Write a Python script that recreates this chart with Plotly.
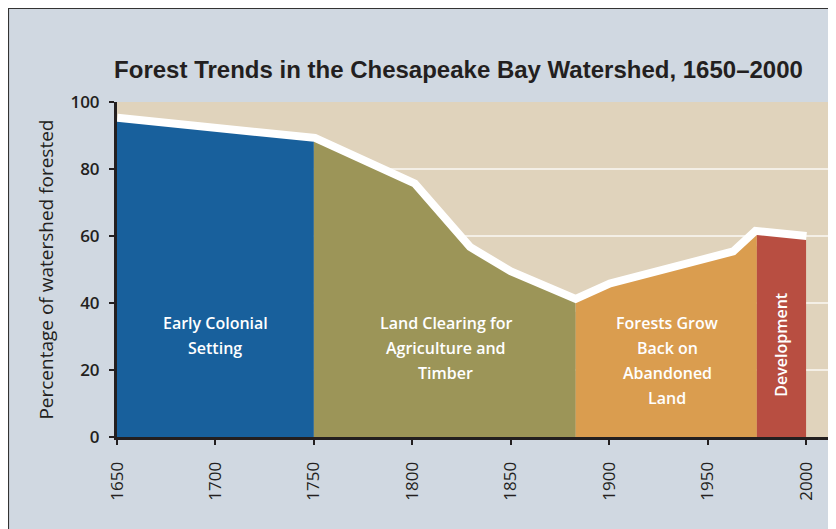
import plotly.graph_objects as go

# ---- data ----
years = [1650, 1750, 1800, 1828, 1849, 1883, 1901, 1964, 1975, 2000]
forest_pct = [94.1, 88.1, 74.7, 55.8, 48.4, 39.9, 44.7, 54.3, 60.3, 58.8]

era_names = ["Early Colonial Setting", "Land Clearing", "Forests Grow Back", "Development"]
era_start_idx = [0, 1, 5, 8]
era_end_idx = [1, 5, 8, 9]
era_colors = ["#18609c", "#9c9558", "#da9d4f", "#b84e41"]

label_lines = [
    ["Early Colonial", "Setting"],
    ["Land Clearing for", "Agriculture and", "Timber"],
    ["Forests Grow", "Back on", "Abandoned", "Land"],
]
label_x = [1700, 1817, 1929.6]
label_top = 34.0
label_step = 7.5

x_ticks = [1650, 1700, 1750, 1800, 1850, 1900, 1950, 2000]
y_ticks = [0, 20, 40, 60, 80, 100]

BG = "#d0d8e1"
BEIGE = "#e0d3bc"
DARK = "#231f20"

fig = go.Figure()

# white edge line (half of it is covered by the fills drawn after)
fig.add_trace(go.Scatter(x=years, y=forest_pct, mode="lines",
                         line=dict(color="white", width=16),
                         hoverinfo="skip", showlegend=False))

for name, s, e, c in zip(era_names, era_start_idx, era_end_idx, era_colors):
    fig.add_trace(go.Scatter(x=years[s:e + 1], y=forest_pct[s:e + 1], mode="lines",
                             fill="tozeroy", fillcolor=c,
                             line=dict(width=0, color=c), name=name,
                             showlegend=False))

annotations = []
for lines, lx in zip(label_lines, label_x):
    for i, t in enumerate(lines):
        annotations.append(dict(x=lx, y=label_top - i * label_step, xref="x", yref="y",
                                text=t, showarrow=False,
                                font=dict(family="Open Sans", size=16, color="white", weight=600),
                                xanchor="center", yanchor="middle"))
annotations.append(dict(x=1987.2, y=27.5, xref="x", yref="y", text="Development",
                        textangle=-90, showarrow=False,
                        font=dict(family="Open Sans", size=16, color="white", weight=600),
                        xanchor="center", yanchor="middle"))
annotations.append(dict(x=-0.1, y=50, xref="paper", yref="y",
                        text="Percentage of watershed forested", textangle=-90,
                        showarrow=False,
                        font=dict(family="Open Sans", size=19, color=DARK),
                        xanchor="center", yanchor="middle"))

shapes = [
    # dark frame on the top and left edges of the figure
    dict(type="line", xref="paper", yref="paper", x0=-0.1515, x1=-0.1515, y0=-0.5, y1=1.5,
         line=dict(color="#333333", width=2), layer="above"),
    dict(type="line", xref="paper", yref="paper", x0=-0.3, x1=1.2, y0=1.2806, y1=1.2806,
         line=dict(color="#333333", width=2), layer="above"),
]

fig.update_layout(
    width=828, height=521,
    margin=dict(l=109, r=0, t=94, b=92),
    paper_bgcolor=BG, plot_bgcolor=BEIGE,
    title=dict(text="<b>Forest Trends in the Chesapeake Bay Watershed, 1650–2000</b>",
               x=(458.5 - 8) / 828, xref="container", xanchor="center",
               y=1 - 62 / 521, yref="container", yanchor="middle",
               font=dict(family="Liberation Sans, Arial, sans-serif",
                         size=24, color=DARK)),
    annotations=annotations,
    shapes=shapes,
    showlegend=False,
)

fig.update_xaxes(range=[1650, 2015.2], tickvals=x_ticks, ticktext=[str(v) for v in x_ticks],
                 tickangle=-90, ticks="outside", ticklen=5, tickwidth=2, tickcolor=DARK,
                 ticklabelstandoff=10,
                 showline=True, linecolor=DARK, linewidth=3, showgrid=False, zeroline=False,
                 tickfont=dict(family="Open Sans", size=17, color=DARK, weight=500))
fig.update_yaxes(range=[0, 100], tickvals=y_ticks, ticks="outside", ticklen=5, tickwidth=2,
                 tickcolor=DARK, showline=True, linecolor=DARK, linewidth=3,
                 ticklabelstandoff=6,
                 showgrid=True, gridcolor="#f4efe6", gridwidth=1.5, zeroline=False,
                 tickfont=dict(family="Open Sans", size=17, color=DARK, weight=600))

fig.write_html("out.html")
